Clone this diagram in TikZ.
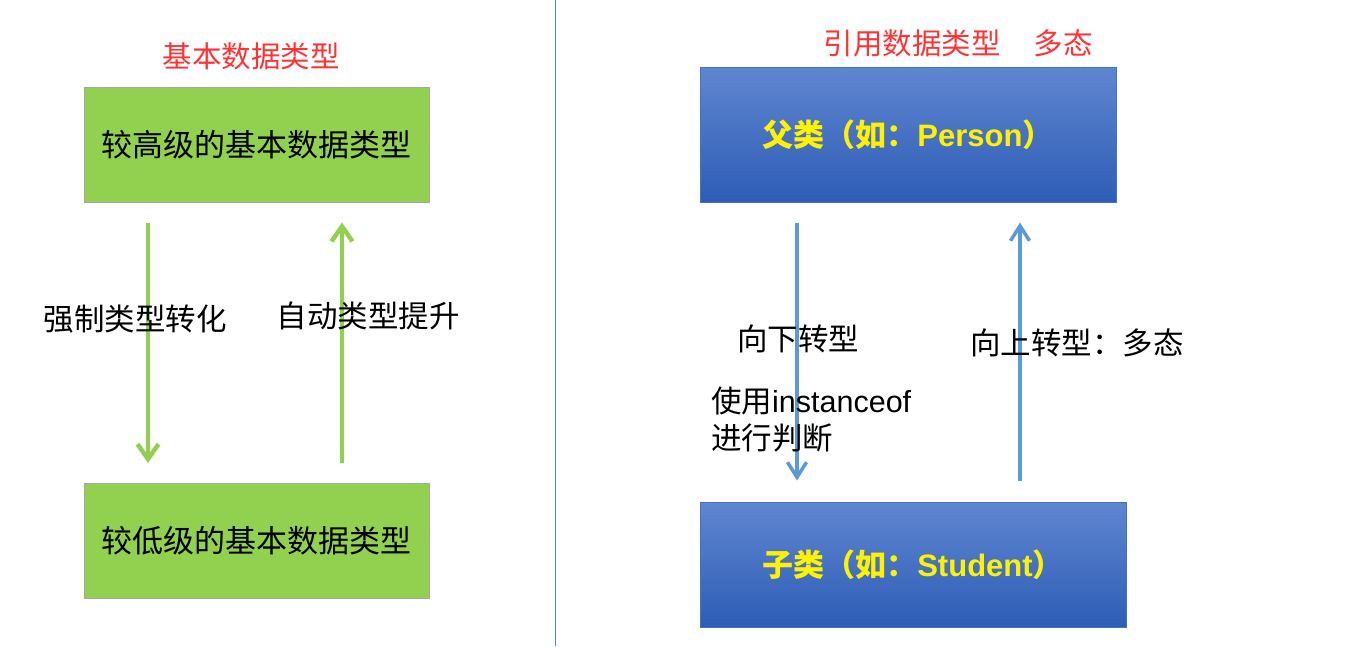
\documentclass[tikz,border=0pt]{standalone}
\usepackage{fontspec}
\newfontfamily\cjk{Noto Sans CJK SC}
\newfontfamily\lat{Liberation Sans}
\usetikzlibrary{arrows.meta}
\definecolor{gfill}{HTML}{92D050}
\definecolor{gborder}{HTML}{A6A6A6}
\definecolor{btop}{HTML}{5F86D0}
\definecolor{bbot}{HTML}{2E5DB6}
\definecolor{bborder}{HTML}{4472C4}
\definecolor{barrow}{HTML}{5B9BD5}
\definecolor{titlered}{HTML}{FF3333}
\definecolor{divider}{HTML}{5B80B8}
\begin{document}
\begin{tikzpicture}[x=1pt,y=1pt,
  txt/.style={inner sep=0pt,font=\cjk\fontsize{30.5}{36}\selectfont,text=black},
  title/.style={inner sep=0pt,font=\cjk\fontsize{29.5}{35}\selectfont,text=titlered},
  gbox/.style={draw=gborder,line width=1pt,fill=gfill,minimum width=345pt,minimum height=115pt,inner sep=0pt,font=\cjk\fontsize{31}{36}\selectfont},
  bbox/.style={draw=bborder,line width=1pt,top color=btop,bottom color=bbot,inner sep=0pt,font=\cjk\bfseries\fontsize{31}{36}\selectfont,text=yellow},
  garrow/.style={draw=gfill,line width=4.5pt,-{Straight Barb[length=15pt,width=21pt,line width=4.5pt]}},
  barrowst/.style={draw=barrow,line width=3.5pt,-{Straight Barb[length=15pt,width=19pt,line width=3.5pt]}}
]
\useasboundingbox (0,0) rectangle (1361,-646);
\fill[white] (0,0) rectangle (1361,-646);
% divider
\coordinate (dtop) at (555,0);
\coordinate (dbot) at (555,-646);
\draw[divider,line width=1pt] (dtop) -- (dbot);

% left side
\node[title] (t1) at (251,-56) {基本数据类型};
\node[gbox] (hi) at (256.5,-144.5) {较高级的基本数据类型};
\node[gbox] (lo) at (256.5,-541) {较低级的基本数据类型};
\draw[garrow] ([xshift=-108.5pt,yshift=-20pt]hi.south) -- ([xshift=-108.5pt,yshift=20pt]lo.north);
\draw[garrow] ([xshift=85.5pt,yshift=20pt]lo.north) -- ([xshift=85.5pt,yshift=-20pt]hi.south);
\node[txt] (l1) at (135,-319) {强制类型转化};
\node[txt] (l2) at (368,-316) {自动类型提升};

% right side
\node[title] (t2) at (912,-43) {引用数据类型};
\node[title] (t3) at (1063,-43) {多态};
\node[bbox,minimum width=416pt,minimum height=135pt] (parent) at (908,-134.5) {父类（如：{\lat\bfseries Person}）};
\node[bbox,minimum width=426pt,minimum height=125pt] (child) at (913,-564.5) {子类（如：{\lat\bfseries Student}）};
\draw[barrowst] ([xshift=-111pt,yshift=-20pt]parent.south) -- ([xshift=-116pt,yshift=21pt]child.north);
\draw[barrowst] ([xshift=107pt,yshift=21pt]child.north) -- ([xshift=112pt,yshift=-20pt]parent.south);
\node[txt] (r1) at (798,-339) {向下转型};
\node[txt] (r2) at (1077,-343) {向上转型：多态};
\node[txt,anchor=west,align=left] (r3) at (711,-419) {使用{\lat instanceof}\\[1pt]进行判断};
\end{tikzpicture}
\end{document}
